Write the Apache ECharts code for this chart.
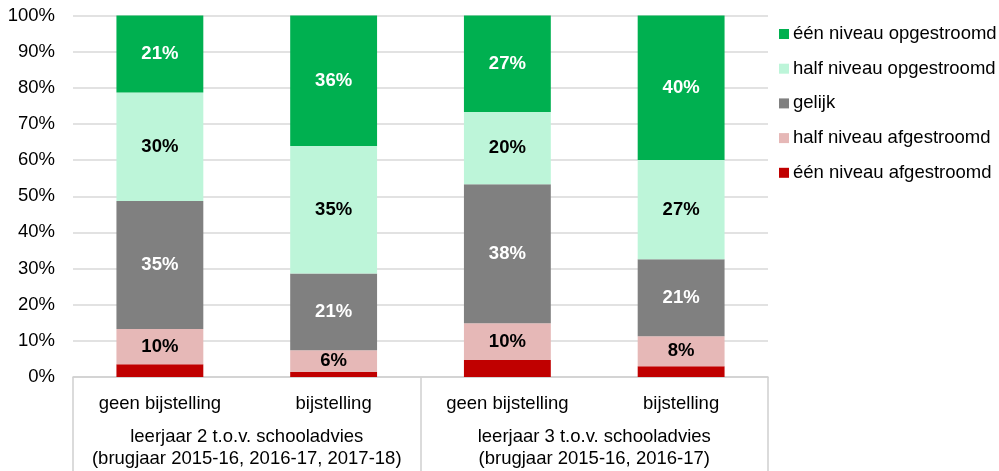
<!DOCTYPE html>
<html>
<head>
<meta charset="utf-8">
<script src="https://cdn.jsdelivr.net/npm/echarts@6/dist/echarts.min.js"></script>
<style>
  html, body { margin: 0; padding: 0; background: #fff; }
  #chart { width: 999px; height: 471px; }
</style>
</head>
<body>
<div id="chart"></div>
<script>
// categorieën
var categories = ['geen bijstelling', 'bijstelling', 'geen bijstelling', 'bijstelling'];
var groups = ['leerjaar 2 t.o.v. schooladvies\n(brugjaar 2015-16, 2016-17, 2017-18)',
              'leerjaar 3 t.o.v. schooladvies\n(brugjaar 2015-16, 2016-17)'];

// percentages per reeks (van onder naar boven)
var eenAf   = [3.5, 1.4, 4.7, 3.0];
var halfAf  = [9.8, 6.0, 10.2, 8.3];
var gelijk  = [35.4, 21.2, 38.4, 21.3];
var halfOp  = [30.0, 35.3, 20.0, 27.4];
var eenOp   = [21.3, 36.1, 26.7, 40.0];

var yTicks = { min: 0, max: 100, interval: 10 };

var font = 'Liberation Sans, Arial, sans-serif';
var fs = 18.5;
var chart = echarts.init(document.getElementById('chart'));

function serie(name, data, color, labelColor, showLabel) {
	return {
		name: name,
		type: 'bar',
		stack: 'totaal',
		barWidth: '50%',
		data: data,
		itemStyle: { color: color },
		label: {
			show: showLabel,
			position: 'inside',
			color: labelColor,
			fontFamily: font,
			fontSize: fs,
			fontWeight: 'bold',
			formatter: function (p) { return Math.round(p.value) + '%'; }
		},
		emphasis: { disabled: true }
	};
}

var option = {
	animation: false,
	textStyle: { fontFamily: font },
	grid: { left: 73, right: 231, top: 15.5, bottom: 94, containLabel: false },
	legend: {
		orient: 'vertical',
		left: 774,
		top: 19,
		icon: 'rect',
		itemWidth: 10,
		itemHeight: 10,
		itemGap: 14.7,
		textStyle: { fontFamily: font, fontSize: fs, color: '#000', lineHeight: 20, padding: [0, 0, 0, -1] },
		data: ['één niveau opgestroomd', 'half niveau opgestroomd', 'gelijk', 'half niveau afgestroomd', 'één niveau afgestroomd']
	},
	xAxis: [{
		type: 'category',
		position: 'bottom',
		data: categories,
		axisLine: { show: true, lineStyle: { color: '#d0d0d0', width: 1.5 } },
		axisTick: { show: false },
		axisLabel: { interval: 0, color: '#000', fontFamily: font, fontSize: fs, margin: 17 }
	}, {
		type: 'category',
		position: 'bottom',
		data: groups,
		axisLine: { show: false },
		axisTick: { show: true, length: 94, lineStyle: { color: '#d0d0d0', width: 1.5 } },
		axisLabel: { interval: 0, hideOverlap: false, color: '#000', fontFamily: font, fontSize: fs, lineHeight: 22, margin: 49 }
	}],
	yAxis: {
		type: 'value',
		min: yTicks.min,
		max: yTicks.max,
		interval: yTicks.interval,
		axisLine: { show: false },
		axisTick: { show: false },
		splitLine: { lineStyle: { color: '#d9d9d9', width: 1.5 } },
		axisLabel: { color: '#000', fontFamily: font, fontSize: fs, margin: 18, formatter: '{value}%' }
	},
	series: [
		serie('één niveau afgestroomd', eenAf, '#c00000', '#000', false),
		serie('half niveau afgestroomd', halfAf, '#e6b8b7', '#000', true),
		serie('gelijk', gelijk, '#808080', '#fff', true),
		serie('half niveau opgestroomd', halfOp, '#bdf5d9', '#000', true),
		serie('één niveau opgestroomd', eenOp, '#00b050', '#fff', true)
	]
};
chart.setOption(option);
</script>
</body>
</html>
